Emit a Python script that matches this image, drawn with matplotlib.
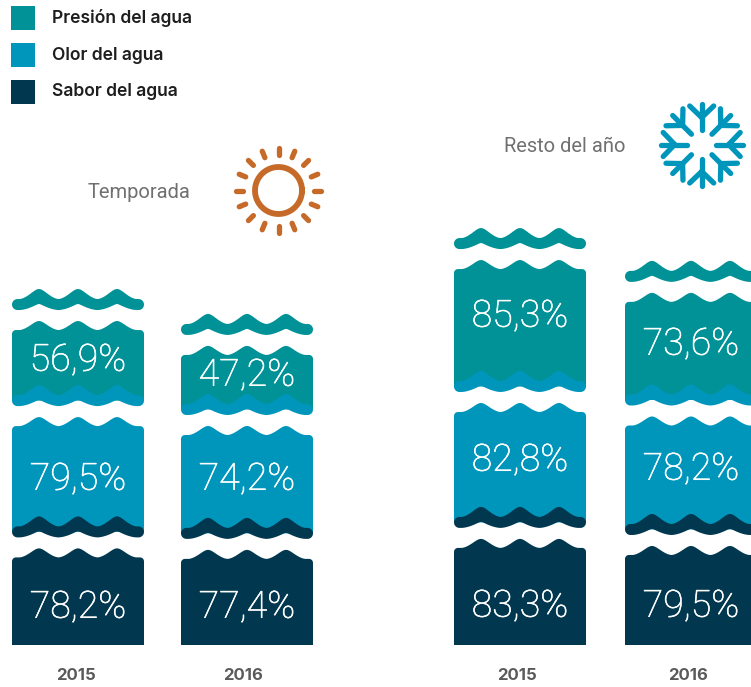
import numpy as np
import matplotlib
matplotlib.use("Agg")
import matplotlib.pyplot as plt
import matplotlib.patheffects as pe

# values as printed on the chart
groups = ["Temporada", "Temporada", "Resto del año", "Resto del año"]
years = ["2015", "2016", "2015", "2016"]
presion = [56.9, 47.2, 85.3, 73.6]
olor = [79.5, 74.2, 82.8, 78.2]
sabor = [78.2, 77.4, 83.3, 79.5]
legend_names = ["Presión del agua", "Olor del agua", "Sabor del agua"]

TEAL = "#009296"
BLUE = "#0096BC"
DARK = "#02384F"
ORANGE = "#C56A28"

# the blocks are not drawn to zero, each series has its own scale (px per %, zero point)
SCALE_SABOR = (1.86, 31.1)
SCALE_OLOR = (1.40, 0.0)
SCALE_PRESION = (1.65, 10.8)

BASELINE = 645
GAP = 20
BAR_W = 132
bar_left = [12, 181, 454, 625]
year_x = [76, 243, 517, 688]
label_y = [(356, 475, 603), (371, 475, 603), (312, 456, 602), (340, 465, 602)]

fig = plt.figure(figsize=(7.51, 6.87), dpi=100)
ax = fig.add_axes([0, 0, 1, 1])
ax.set_xlim(0, 751)
ax.set_ylim(687, 0)
ax.axis("off")


def block_height(value, scale):
    return scale[0] * (value - scale[1])


# bump profile shared by block tops and ribbons, 0 at trough, 1 at crest
def bumps(x, sharp=0.3):
    crests = np.array([27, 66, 105]) * BAR_W / 132
    half = 19.6
    t = np.min(np.abs(x[:, None] - crests), axis=1) / half
    s = np.sqrt(t ** 2 + sharp ** 2)
    top = np.sqrt(1 + sharp ** 2)
    return np.clip((top - s) / (top - sharp), 0, 1) ** 1.7


def corner(x, r):
    d = np.minimum(x, BAR_W - x)
    out = np.zeros_like(x)
    near = d < r
    out[near] = r - np.sqrt(r ** 2 - (r - d[near]) ** 2)
    return out


def sample_x():
    return np.concatenate([np.linspace(0, 6, 40), np.linspace(6, BAR_W - 6, 300), np.linspace(BAR_W - 6, BAR_W, 40)])


def draw_block(left, shoulder, bottom, color):
    x = sample_x()
    top = shoulder - 9 * bumps(x) + corner(x, 4)
    px = np.concatenate([x, [BAR_W, 0]]) + left
    py = np.concatenate([top, [bottom, bottom]])
    ax.fill(px, py, color=color, lw=0, zorder=2)


def draw_ribbon(left, low, color):
    x = sample_x()
    r = 5.5
    round_off = corner(x, r)
    top = low - 11 - 10 * bumps(x) + round_off
    bot = low - 6 * bumps(x, 0.08) - round_off
    ax.fill(np.concatenate([x, x[::-1]]) + left, np.concatenate([top, bot[::-1]]), color=color, lw=0, zorder=3)


# stacked from the baseline upward
for i in range(len(years)):
    left = bar_left[i]
    top_s = BASELINE - block_height(sabor[i], SCALE_SABOR)
    low_o = top_s - GAP
    top_o = low_o - block_height(olor[i], SCALE_OLOR)
    low_p = top_o - GAP
    top_p = low_p - block_height(presion[i], SCALE_PRESION)
    low_r = top_p - GAP

    draw_block(left, top_s, BASELINE, DARK)
    draw_block(left, top_o, low_o - 5.5, BLUE)
    draw_ribbon(left, low_o, DARK)
    draw_block(left, top_p, low_p - 5.5, TEAL)
    draw_ribbon(left, low_p, BLUE)
    draw_ribbon(left, low_r, TEAL)

    for val, y in zip([presion[i], olor[i], sabor[i]], label_y[i]):
        txt = f"{val:.1f}".replace(".", ",") + "%"
        t = ax.text(left + BAR_W / 2, y, txt, color="white", fontsize=27, family="Roboto", weight="light",
                    ha="center", va="center_baseline", zorder=5)
        t.set_path_effects([pe.withStroke(linewidth=0.4, foreground="white")])

    ax.text(year_x[i], 675, years[i], color="#5a5a5a", fontsize=12, family="Inter", weight="bold",
            ha="center", va="center")

# legend
for name, color, y in zip(legend_names, [TEAL, BLUE, DARK], [18, 55, 92]):
    ax.fill([11, 35, 35, 11], [y - 12, y - 12, y + 12, y + 12], color=color, lw=0)
    ax.text(52, y, name, color="#1e1e1e", fontsize=12.6, family="Inter", weight="semibold", va="center")

ax.text(139, 192, groups[0], color="#707070", fontsize=14.5, family="Roboto", ha="center", va="center")
ax.text(565, 147, groups[2], color="#707070", fontsize=14.5, family="Roboto", ha="center", va="center")

# sun
cx, cy = 278.5, 190.5
ang = np.linspace(0, 2 * np.pi, 200)
ax.plot(cx + 23.5 * np.cos(ang), cy + 23.5 * np.sin(ang), color=ORANGE, lw=4.2)
for a in np.arange(16) * np.pi / 8:
    ax.plot([cx + 35.5 * np.cos(a), cx + 42.5 * np.cos(a)], [cy + 35.5 * np.sin(a), cy + 42.5 * np.sin(a)],
            color=ORANGE, lw=3.8, solid_capstyle="round")

# snowflake
sx, sy = 701.7, 144.5
for a in np.arange(8) * np.pi / 4:
    ux, uy = np.cos(a), np.sin(a)
    vx, vy = -uy, ux
    ax.plot([sx + 14.5 * ux, sx + 41 * ux], [sy + 14.5 * uy, sy + 41 * uy], color=BLUE, lw=3.8, solid_capstyle="round")
    for side in (-1, 1):
        ax.plot([sx + 27 * ux, sx + 38.5 * ux + side * 12 * vx], [sy + 27 * uy, sy + 38.5 * uy + side * 12 * vy],
                color=BLUE, lw=3.8, solid_capstyle="round")

fig.savefig("out.png", dpi=100, facecolor="white")
